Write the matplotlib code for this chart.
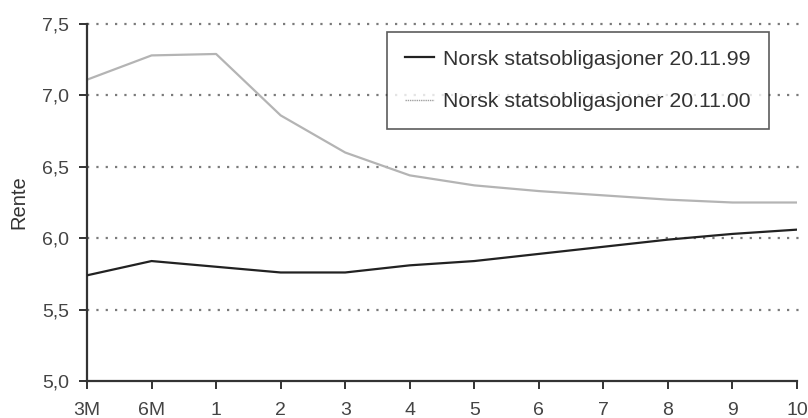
import matplotlib
matplotlib.use("Agg")
import matplotlib.pyplot as plt
from matplotlib.lines import Line2D

plt.rcParams["font.family"] = ["Liberation Sans", "DejaVu Sans"]

# maturities and yields (percent)
maturities = ["3M", "6M", "1", "2", "3", "4", "5", "6", "7", "8", "9", "10"]
rente_1999 = [5.74, 5.84, 5.80, 5.76, 5.76, 5.81, 5.84, 5.89, 5.94, 5.99, 6.03, 6.06]
rente_2000 = [7.11, 7.28, 7.29, 6.86, 6.60, 6.44, 6.37, 6.33, 6.30, 6.27, 6.25, 6.25]
labels = ["Norsk statsobligasjoner 20.11.99", "Norsk statsobligasjoner 20.11.00"]
yticks = [5.0, 5.5, 6.0, 6.5, 7.0, 7.5]

fig = plt.figure(figsize=(8.08, 4.18), dpi=100)
ax = fig.add_axes([0.1077, 0.0885, 0.8787, 0.8541])

x = list(range(len(maturities)))
for y in yticks[1:]:
    ax.plot([0, len(maturities) - 0.95], [y, y], color="#7a7a7a", lw=1.6,
            ls=(0, (1, 3.2)), zorder=1, clip_on=False)

ax.plot(x, rente_2000, color="#b4b4b4", lw=1.6, zorder=2)
ax.plot(x, rente_1999, color="#222222", lw=1.6, zorder=3)

ax.set_xlim(0, len(maturities) - 1)
ax.set_ylim(5.0, 7.5)
ax.set_xticks(x)
ax.set_xticklabels(maturities)
ax.set_yticks(yticks)
ax.set_yticklabels([f"{v:.1f}".replace(".", ",") for v in yticks])
ax.set_ylabel("Rente", fontsize=14.5, color="#333333", labelpad=10)

for side in ["top", "right"]:
    ax.spines[side].set_visible(False)
for side in ["left", "bottom"]:
    ax.spines[side].set_color("#333333")
    ax.spines[side].set_linewidth(1.6)
ax.tick_params(axis="both", colors="#333333", labelcolor="#444444",
               labelsize=14, length=6, width=1.4, direction="out")
ax.tick_params(axis="y", pad=7)
ax.tick_params(axis="x", pad=9)

handles = [
    Line2D([], [], color="#222222", lw=1.6),
    Line2D([], [], color="#a0a0a0", lw=1.0, ls=(0, (1, 0.6))),
]
leg = ax.legend(handles, labels, loc="upper left", bbox_to_anchor=(0.4225, 0.978),
                fontsize=15.3, frameon=True, fancybox=False, handlelength=1.35,
                handletextpad=0.45, borderpad=0.85, labelspacing=1.1,
                borderaxespad=0)
leg.get_frame().set_edgecolor("#333333")
leg.get_frame().set_linewidth(1.2)
for t in leg.get_texts():
    t.set_color("#333333")

fig.savefig("out.png", dpi=100)
